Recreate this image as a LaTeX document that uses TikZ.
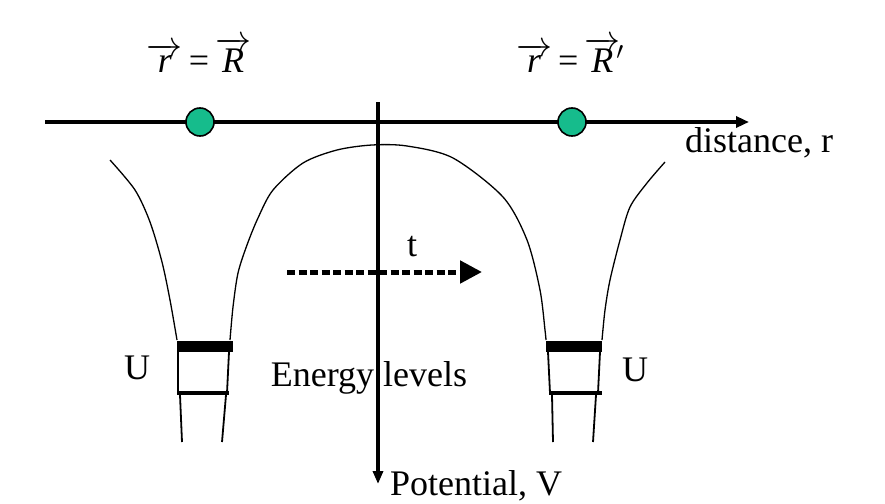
\RequirePackage{fix-cm}
\documentclass[tikz,border=0pt]{standalone}
\usepackage{fontspec}
\setmainfont{Liberation Serif}
\usetikzlibrary{arrows.meta}
\definecolor{teal1}{RGB}{22,188,140}
\tikzset{
  axis/.style={line width=3.2pt},
  curve/.style={line width=1.3pt},
  lab/.style={font=\fontsize{36}{42}\selectfont, inner sep=0pt},
  particle/.style={circle, draw=black, line width=1.6pt, fill=teal1, minimum size=28pt, inner sep=0pt},
  thickbar/.style={line width=11pt},
  thinbar/.style={line width=3.6pt},
  wall/.style={line width=1.8pt}
}
\newcommand\myvec[1]{$\overrightarrow{\textit{#1}}$}
\begin{document}
\begin{tikzpicture}[x=1pt,y=-1pt]
\useasboundingbox (0,0) rectangle (885,503);
% coordinates for axes
\coordinate (hstart) at (45,122);
\coordinate (hend) at (749,122);
\coordinate (vstart) at (378,102);
\coordinate (vend) at (378,484);
% potential curves
\draw[curve] plot[smooth] coordinates {(110,160) (135,190) (150,222) (162,262) (170,300) (177,340)};
\draw[curve] plot[smooth] coordinates {(230,340) (233,307) (238,273) (247,245) (258,218) (273,190) (303,163) (337,150) (372,145) (407,146) (453,158) (503,197) (527,240) (540,290) (545,330) (546,340)};
\draw[curve] plot[smooth] coordinates {(602,340) (605,310) (610,280) (620,240) (630,207) (647,183) (665,162)};
% wells lower parts
\draw[wall] (178,352) -- (178,393);
\draw[wall] (229,352) -- (227,393);
\draw[wall] (180,395) -- (182,442);
\draw[wall] (226,395) -- (222,442);
\draw[wall] (548,352) -- (550,393);
\draw[wall] (600,352) -- (598,393);
\draw[wall] (552,395) -- (553,442);
\draw[wall] (596,395) -- (593,442);
% energy levels
\draw[thickbar] (177,346) -- (233,346);
\draw[thinbar] (177,393) -- (229,393);
\draw[thickbar] (546,346) -- (602,346);
\draw[thinbar] (549,393) -- (602,393);
% axes
\draw[axis, -{Triangle[length=13pt,width=11pt]}] (hstart) -- (hend);
\draw[axis, -{Triangle[length=13pt,width=10pt]}] (vstart) -- (vend);
% particles
\node[particle] (p1) at (200,122) {};
\node[particle] (p2) at (572,122) {};
% dashed arrow
\coordinate (tstart) at (287,272);
\coordinate (tend) at (482,272);
\draw[line width=5pt, dash pattern=on 8pt off 3.5pt, -{Triangle[length=22pt,width=22pt]}] (tstart) -- (tend);
% labels
\node[lab] (lr) at (199,55) {\myvec{r}\,=\,\myvec{R}};
\node[lab] (lrp) at (570,55) {\myvec{r}\,=\,\myvec{R}\kern-4pt$'$};
\node[lab, anchor=west] (dist) at (685,143) {distance, r};
\node[lab] (t) at (412,247) {t};
\node[lab] (U1) at (137,368) {U};
\node[lab] (U2) at (635,370) {U};
\node[lab] (en) at (369,378) {Energy levels};
\node[lab, anchor=west] (pot) at (390,486) {Potential, V};
\end{tikzpicture}
\end{document}
